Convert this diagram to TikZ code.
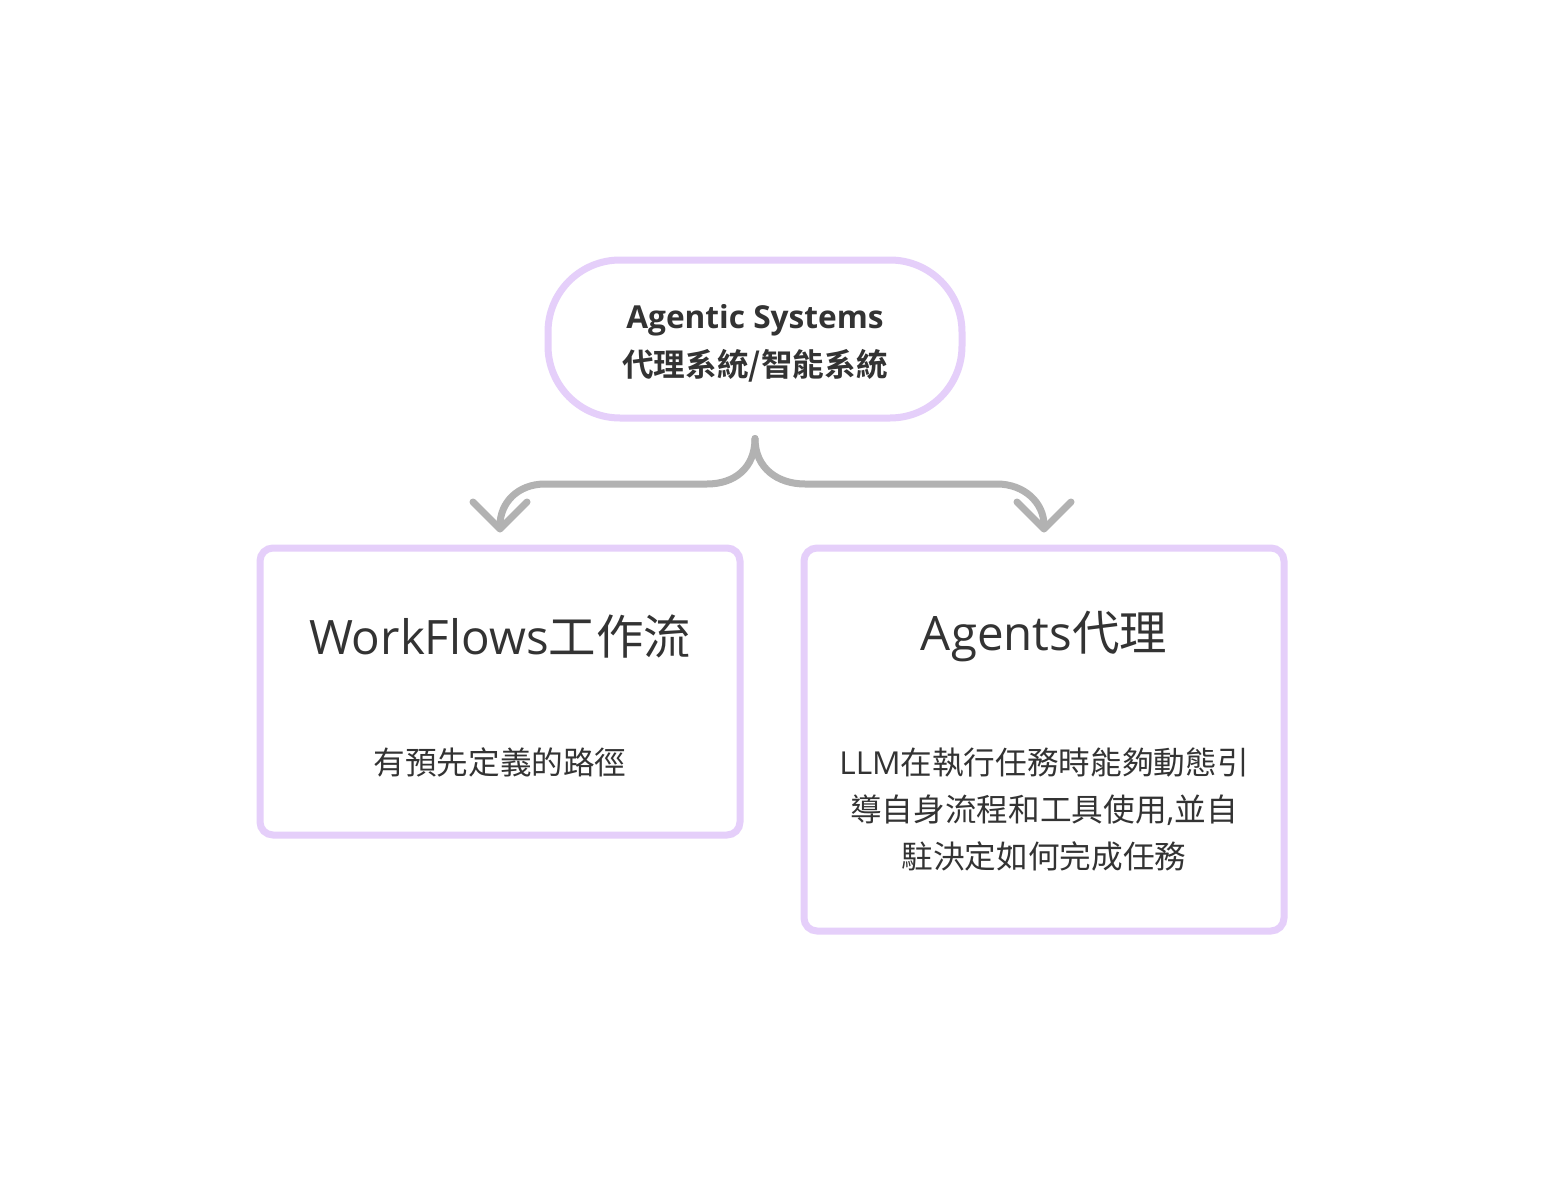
\documentclass[tikz,border=0pt]{standalone}
\usepackage{fontspec}
\setmainfont{Open Sans}
\newfontfamily\cjk{Noto Sans CJK TC}[BoldFont={Noto Sans CJK TC Bold}]
\newcommand{\zh}[1]{{\cjk #1}}
\usetikzlibrary{positioning,arrows.meta}
\definecolor{lilac}{RGB}{229,207,250}
\definecolor{arrgray}{RGB}{178,178,178}
\definecolor{ink}{RGB}{51,51,51}

\begin{document}
\begin{tikzpicture}[
  box/.style={draw=lilac, line width=0.07cm, rounded corners=0.13cm, minimum width=4.8cm},
  pill/.style={draw=lilac, line width=0.07cm, rounded corners=0.72cm, minimum width=4.14cm, minimum height=1.58cm},
  head/.style={text=ink, font=\fontsize{13.5}{16}\selectfont},
  body/.style={text=ink, align=center, font=\fontsize{9}{13.5}\selectfont},
  link/.style={arrgray, line width=0.07cm, line cap=round, line join=round, -{Straight Barb[round,length=0.27cm,width=0.54cm]}}
]
\fill[white] (0,0) rectangle (15.44,-11.92);
\useasboundingbox (0,0) rectangle (15.44,-11.92);

\node[pill] (sys) at (7.55,-3.39) {};
\node[body, font=\fontsize{9}{13.6}\selectfont\bfseries] (systxt) at ([yshift=-0.04cm]sys) {Agentic Systems\\\zh{代理系統/智能系統}};

\node[box, minimum height=2.87cm] (wf) at (5.00,-6.915) {};
\node[box, minimum height=3.83cm] (ag) at (10.44,-7.395) {};

\node[head] (wft) at ([yshift=-0.92cm]wf.north) {WorkFlows\zh{工作流}};
\node[body] (wfb) at ([yshift=-2.18cm]wf.north) {\zh{有預先定義的路徑}};

\node[head] (agt) at ([yshift=-0.92cm]ag.north) {Agents\zh{代理}};
\node[body] (agb) at ([yshift=-2.65cm]ag.north) {LLM\zh{在執行任務時能夠動態引}\\\zh{導自身流程和工具使用},\zh{並自}\\\zh{駐決定如何完成任務}};

% fork under the top box
\coordinate (fork) at ([yshift=-0.17cm]sys.south);
\coordinate (ljoin) at (7.07,-4.84);
\coordinate (rjoin) at (8.05,-4.84);
\coordinate (lbend) at (5.45,-4.84);
\coordinate (rbend) at (9.97,-4.84);
\coordinate (tipw) at ([yshift=0.12cm]wf.north);
\coordinate (tipa) at ([yshift=0.12cm]ag.north);

\draw[link] (fork) .. controls +(0,-0.3) and +(0.27,0) .. (ljoin) -- (lbend) .. controls +(-0.27,0) and +(0,0.3) .. (tipw);
\draw[link] (fork) .. controls +(0,-0.3) and +(-0.27,0) .. (rjoin) -- (rbend) .. controls +(0.27,0) and +(0,0.3) .. (tipa);

\end{tikzpicture}
\end{document}
